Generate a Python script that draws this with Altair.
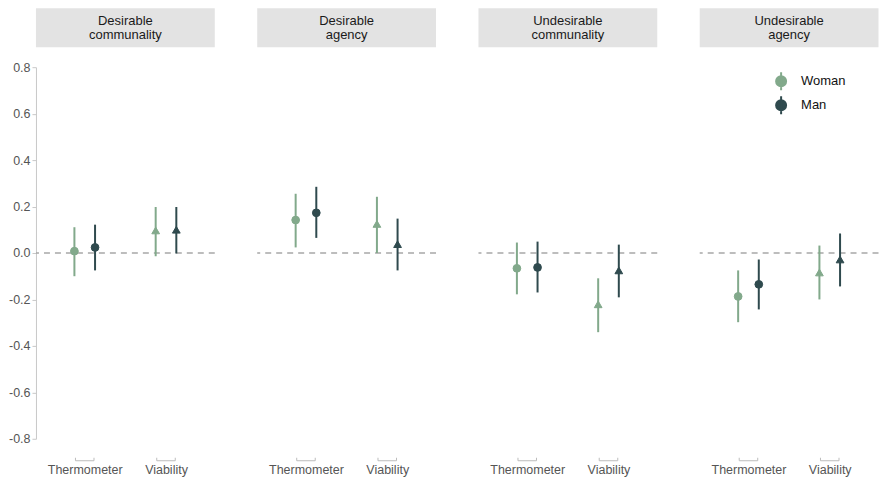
import altair as alt
import pandas as pd

panels = ["Desirable\ncommunality", "Desirable\nagency", "Undesirable\ncommunality", "Undesirable\nagency"]
measures = ["Thermometer", "Viability"]
genders = ["Woman", "Man"]

# order: panel -> measure -> gender
estimate = [0.008, 0.024, 0.097, 0.100,
            0.142, 0.173, 0.125, 0.038,
            -0.066, -0.062, -0.221, -0.075,
            -0.187, -0.135, -0.084, -0.028]
lower = [-0.100, -0.075, -0.014, -0.002,
         0.024, 0.065, 0.000, -0.075,
         -0.178, -0.170, -0.341, -0.191,
         -0.298, -0.243, -0.200, -0.144]
upper = [0.111, 0.122, 0.198, 0.198,
         0.255, 0.285, 0.242, 0.148,
         0.045, 0.049, -0.109, 0.036,
         -0.075, -0.028, 0.032, 0.084]

measure_pos = [0, 1]
gender_shift = [-0.127, 0.127]
bracket_half = 0.114
y_ticks = [-0.8, -0.6, -0.4, -0.2, 0.0, 0.2, 0.4, 0.6, 0.8]

rows = []
i = 0
for p in panels:
    for mi, m in enumerate(measures):
        for gi, g in enumerate(genders):
            rows.append(dict(panel=p, measure=m, gender=g,
                             x=measure_pos[mi] + gender_shift[gi],
                             est=estimate[i], lo=lower[i], hi=upper[i]))
            i += 1
df = pd.DataFrame(rows)

br = pd.DataFrame({"x1": [p - bracket_half for p in measure_pos],
                   "x2": [p + bracket_half for p in measure_pos]})
br_ends = pd.DataFrame({"xe": [p + s for p in measure_pos for s in (-bracket_half, bracket_half)]})

W, H = 179, 372
FONT = "Liberation Sans"
color_scale = alt.Scale(domain=genders, range=["#82a98b", "#2f4a4e"])
shape_scale = alt.Scale(domain=measures, range=["circle", "triangle-up"])
xscale = alt.Scale(domain=[-0.6, 1.6], nice=False, zero=False)
yscale = alt.Scale(domain=[-0.8, 0.8], nice=False, zero=False)

sym = "M0,-1L0,1M-0.556,0A0.556,0.556,0,1,0,0.556,0A0.556,0.556,0,1,0,-0.556,0Z"
legend = alt.Legend(title=None, orient="none", legendX=736, legendY=4,
                    symbolType=sym, symbolSize=324, symbolStrokeWidth=2,
                    labelFontSize=13, labelFont=FONT, labelColor="#111",
                    labelOffset=10, rowPadding=-2, padding=0)

xaxis = alt.Axis(values=measure_pos, labelExpr="datum.value == 0 ? 'Thermometer' : 'Viability'",
                 domain=False, ticks=False, grid=False, labelPadding=25,
                 labelFontSize=12.5, labelColor="#555", labelFont=FONT, title=None)


def panel(idx, title):
    d = df[df.panel == title]
    if idx == 0:
        yaxis = alt.Axis(values=y_ticks, grid=False, title=None,
                         labelExpr="replace(format(datum.value, '.1f'), '\u2212', '-')",
                         domainColor="#c8c8c8", tickColor="#c8c8c8", tickSize=4,
                         labelColor="#555", labelFontSize=12.5, labelFont=FONT, labelPadding=2)
    else:
        yaxis = None
    x = alt.X("x:Q", scale=xscale, axis=xaxis, title=None)
    base = alt.Chart(d)
    zero = alt.Chart(pd.DataFrame({"y": [0.0]})).mark_rule(
        strokeDash=[6, 5], color="#a8a8a8", strokeWidth=1.5
    ).encode(y=alt.Y("y:Q", scale=yscale, axis=yaxis, title=None))
    bars = base.mark_rule(strokeWidth=2).encode(
        x=x,
        y=alt.Y("lo:Q", scale=yscale, axis=yaxis, title=None),
        y2="hi:Q",
        stroke=alt.Stroke("gender:N", scale=color_scale, legend=legend),
    )
    pts = base.mark_point(filled=True, size=60, strokeWidth=1, opacity=1).encode(
        x=x,
        y=alt.Y("est:Q", scale=yscale, axis=yaxis, title=None),
        shape=alt.Shape("measure:N", scale=shape_scale, legend=None),
        fill=alt.Fill("gender:N", scale=color_scale, legend=legend),
        stroke=alt.Stroke("gender:N", scale=color_scale, legend=legend),
    )
    hdr_df = pd.DataFrame({"t": [title]})
    hdr = alt.Chart(hdr_df).mark_rect(fill="#e3e3e3").encode(
        x=alt.value(0), x2=alt.value(W), y=alt.value(-59), y2=alt.value(-20))
    hdr_t = alt.Chart(hdr_df).mark_text(lineBreak="\n", fontSize=13, font=FONT, color="#1a1a1a",
                                        baseline="middle", align="center", lineHeight=14).encode(
        x=alt.value(W / 2), y=alt.value(-46), text="t:N")
    b1 = alt.Chart(br).mark_rule(color="#bdbdbd", strokeWidth=1).encode(
        x=alt.X("x1:Q", scale=xscale, axis=xaxis, title=None), x2="x2:Q", y=alt.value(H + 22))
    b2 = alt.Chart(br_ends).mark_rule(color="#bdbdbd", strokeWidth=1).encode(
        x=alt.X("xe:Q", scale=xscale, axis=xaxis, title=None), y=alt.value(H + 19), y2=alt.value(H + 22))
    return alt.layer(zero, bars, pts, hdr, hdr_t, b1, b2).properties(width=W, height=H)


chart = alt.hconcat(*[panel(k, t) for k, t in enumerate(panels)], spacing=42.5, bounds="flush").properties(
    padding={"left": 0, "top": 0, "right": 0, "bottom": 0}
).configure(font=FONT).configure_view(strokeWidth=0, stroke="transparent")

chart.save("out.html", embed_options={"renderer": "svg", "actions": False})
